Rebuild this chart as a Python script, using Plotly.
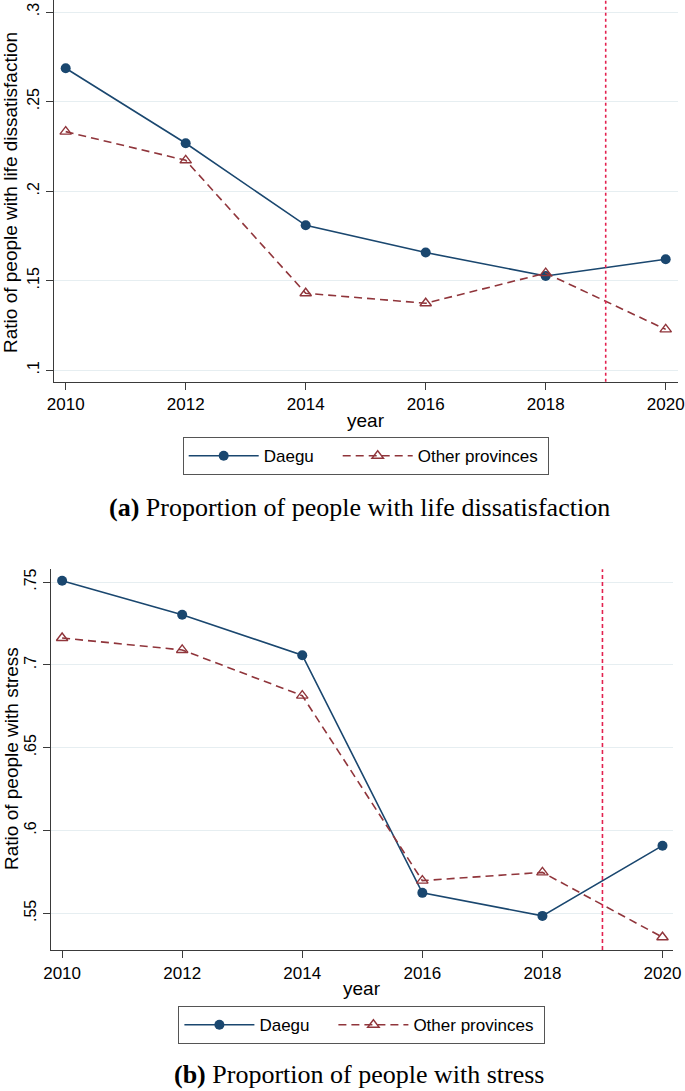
import plotly.graph_objects as go

# Data
YEARS = [2010, 2012, 2014, 2016, 2018, 2020]
EVENT_YEAR = 2019

DAEGU_DISSAT = [0.2686, 0.2267, 0.1809, 0.1657, 0.1526, 0.1620]
OTHER_DISSAT = [0.2332, 0.2172, 0.1430, 0.1374, 0.1542, 0.1228]

DAEGU_STRESS = [0.7508, 0.7303, 0.7058, 0.5623, 0.5484, 0.5908]
OTHER_STRESS = [0.7162, 0.7090, 0.6814, 0.5697, 0.5747, 0.5355]

X_TICKS = [2010, 2012, 2014, 2016, 2018, 2020]
X_LABELS = ["2010", "2012", "2014", "2016", "2018", "2020"]
Y_TICKS_A = [0.1, 0.15, 0.2, 0.25, 0.3]
Y_LABELS_A = [".1", ".15", ".2", ".25", ".3"]
Y_TICKS_B = [0.55, 0.6, 0.65, 0.7, 0.75]
Y_LABELS_B = [".55", ".6", ".65", ".7", ".75"]

SERIES_NAMES = ["Daegu", "Other provinces"]
Y_TITLE_A = "Ratio of people with life dissatisfaction"
Y_TITLE_B = "Ratio of people with stress"
CAPTION_A = "<b>(a)</b> Proportion of people with life dissatisfaction"
CAPTION_B = "<b>(b)</b> Proportion of people with stress"

W, H = 685, 1091
NAVY = "#1a476f"
MAROON = "#90353b"
VLINE = "#e3214f"
GRID = "#e6eef1"
AXIS = "#3a3a3a"
SANS = "Liberation Sans, Arial, sans-serif"
SERIF = "Liberation Serif, Times New Roman, serif"
# trailing non-breaking spaces widen the legend entries like the Stata key
LEGEND_PAD = ["\u00a0" * 4, "\u00a0"]


def px_x(v):
    return v / W


def px_y(v):
    return 1 - v / H


fig = go.Figure()

panels = [
    ("x", "y", "legend", DAEGU_DISSAT, OTHER_DISSAT),
    ("x2", "y2", "legend2", DAEGU_STRESS, OTHER_STRESS),
]
for xa, ya, lg, daegu, other in panels:
    fig.add_trace(go.Scatter(
        x=YEARS, y=daegu, xaxis=xa, yaxis=ya, legend=lg,
        name=SERIES_NAMES[0] + LEGEND_PAD[0], mode="lines+markers",
        line=dict(color=NAVY, width=1.6),
        marker=dict(symbol="circle", size=10, color=NAVY),
    ))
    fig.add_trace(go.Scatter(
        x=YEARS, y=other, xaxis=xa, yaxis=ya, legend=lg,
        name=SERIES_NAMES[1] + LEGEND_PAD[1], mode="lines+markers",
        line=dict(color=MAROON, width=1.6, dash="8px,5px"),
        marker=dict(symbol="triangle-up-open", size=10, color=MAROON,
                    line=dict(width=1.4, color=MAROON)),
    ))

# reference line at 2019
fig.add_shape(type="line", xref="x", yref="y domain", x0=EVENT_YEAR, x1=EVENT_YEAR,
              y0=0, y1=1, line=dict(color=VLINE, width=1.6, dash="dot"))
fig.add_shape(type="line", xref="x2", yref="y2 domain", x0=EVENT_YEAR, x1=EVENT_YEAR,
              y0=0, y1=1, line=dict(color=VLINE, width=1.6, dash="4px,3px"))

xaxis_style = dict(
    tickmode="array", tickvals=X_TICKS, ticktext=X_LABELS, automargin=False,
    showgrid=False, zeroline=False, showline=True, linecolor=AXIS, linewidth=1.3,
    ticks="outside", ticklen=7, tickcolor=AXIS, tickwidth=1.3,
    tickfont=dict(family=SANS, size=17, color="black"),
)
yaxis_style = dict(
    tickmode="array", tickangle=-90, automargin=False,
    showgrid=True, gridcolor=GRID, gridwidth=1.3, zeroline=False,
    showline=True, linecolor=AXIS, linewidth=1.3,
    ticks="outside", ticklen=7, tickcolor=AXIS, tickwidth=1.3,
    tickfont=dict(family=SANS, size=16, color="black"),
)

legend_style = dict(
    orientation="h", xanchor="center", yanchor="middle",
    bordercolor="#555555", borderwidth=1.2, bgcolor="white",
    font=dict(family=SANS, size=17, color="black"),
    itemwidth=70, tracegroupgap=0,
)

fig.update_layout(
    width=W, height=H,
    margin=dict(l=0, r=0, t=0, b=0, autoexpand=False),
    paper_bgcolor="white", plot_bgcolor="white",
    xaxis=dict(xaxis_style, domain=[px_x(54), px_x(677.7)], range=[2009.805, 2020.2], anchor="y"),
    yaxis=dict(yaxis_style, domain=[px_y(381.7), px_y(0)], range=[0.0936, 0.3067],
               tickvals=Y_TICKS_A, ticktext=Y_LABELS_A, anchor="x"),
    xaxis2=dict(xaxis_style, domain=[px_x(50.7), px_x(672.7)], range=[2009.81, 2020.17], anchor="y2"),
    yaxis2=dict(yaxis_style, domain=[px_y(950), px_y(569.3)], range=[0.5278, 0.7577],
                tickvals=Y_TICKS_B, ticktext=Y_LABELS_B, anchor="x2"),
    legend=dict(legend_style, x=px_x(366), y=px_y(456)),
    legend2=dict(legend_style, x=px_x(361.7), y=px_y(1025)),
)

notes = [
    ("year", 366, 420, 0, 19, SANS),
    ("year", 361.7, 988, 0, 19, SANS),
    (Y_TITLE_A, 11, 193, -90, 19, SANS),
    (Y_TITLE_B, 11, 759, -90, 19, SANS),
    (CAPTION_A, 359, 508, 0, 26, SERIF),
    (CAPTION_B, 359, 1074, 0, 26, SERIF),
]
for text, x, y, ang, size, fam in notes:
    fig.add_annotation(text=text, xref="paper", yref="paper", x=px_x(x), y=px_y(y),
                       xanchor="center", yanchor="middle", showarrow=False, textangle=ang,
                       borderpad=0, font=dict(family=fam, size=size, color="black"))

# the page body has a default 8px margin; drop it so the figure sits at the corner
fig.write_html("out.html", config={"displayModeBar": False},
               post_script="document.body.style.margin = '0';")
